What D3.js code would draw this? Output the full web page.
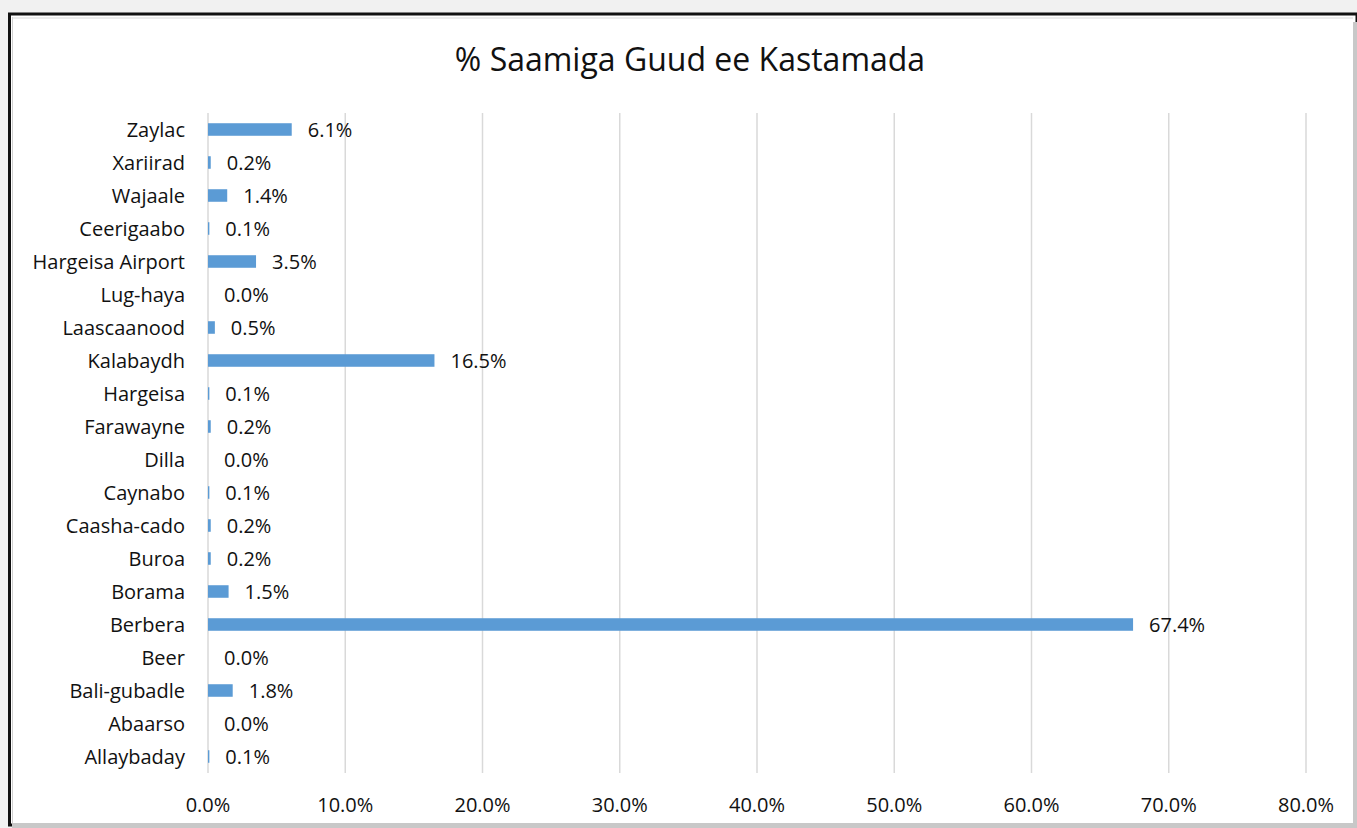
<!DOCTYPE html>
<html>
<head>
<meta charset="utf-8">
<script src="https://cdn.jsdelivr.net/npm/d3@7"></script>
<style>
  body { margin: 0; background: #fff; }
  svg { display: block; font-family: "Open Sans", Lato, sans-serif; }
</style>
</head>
<body>
<svg id="canvas" width="1357" height="828"></svg>
<script>
let categories = ['Zaylac', 'Xariirad', 'Wajaale', 'Ceerigaabo', 'Hargeisa Airport', 'Lug-haya',
  'Laascaanood', 'Kalabaydh', 'Hargeisa', 'Farawayne', 'Dilla', 'Caynabo', 'Caasha-cado',
  'Buroa', 'Borama', 'Berbera', 'Beer', 'Bali-gubadle', 'Abaarso', 'Allaybaday']
let values = [6.1, 0.2, 1.4, 0.1, 3.5, 0.0, 0.5, 16.5, 0.1, 0.2, 0.0, 0.1, 0.2, 0.2, 1.5, 67.4, 0.0, 1.8, 0.0, 0.1]
let ticks = [0, 10, 20, 30, 40, 50, 60, 70, 80]
let title = '% Saamiga Guud ee Kastamada'

let data = categories.map((c, i) => ({ name: c, value: values[i] }))

let canvas = d3.select('#canvas')

// frame
canvas.append('rect').attr('x', 0).attr('y', 0).attr('width', 1357).attr('height', 828).attr('fill', '#f1f1f1')
canvas.append('rect').attr('x', 9.5).attr('y', 14).attr('width', 1347.5).attr('height', 811)
      .attr('fill', '#fff').attr('stroke', '#111').attr('stroke-width', 3)
canvas.append('rect').attr('x', 1353).attr('y', 22).attr('width', 4).attr('height', 806).attr('fill', '#c8c8c8')
canvas.append('rect').attr('x', 12).attr('y', 823).attr('width', 1345).attr('height', 5).attr('fill', '#c8c8c8')
canvas.append('line').attr('x1', 12.5).attr('x2', 12.5).attr('y1', 17).attr('y2', 823)
      .attr('stroke', '#d0d0d0').attr('stroke-width', 1)
canvas.append('line').attr('x1', 12).attr('x2', 1353).attr('y1', 18).attr('y2', 18)
      .attr('stroke', '#d8d8d8').attr('stroke-width', 1)

let x = d3.scaleLinear().domain([0, 80]).range([208, 1306])
let y = d3.scaleBand().domain(categories).range([113, 773]).paddingInner(0.62).paddingOuter(0.31)

// gridlines
canvas.append('g').selectAll('line')
      .data(ticks)
      .enter()
      .append('line')
      .attr('x1', (d) => x(d))
      .attr('x2', (d) => x(d))
      .attr('y1', 113)
      .attr('y2', 773)
      .attr('stroke', '#d9d9d9')
      .attr('stroke-width', 1.5)

// bars
canvas.append('g').selectAll('rect')
      .data(data)
      .enter()
      .append('rect')
      .attr('x', x(0))
      .attr('y', (d) => y(d.name))
      .attr('width', (d) => x(d.value) - x(0))
      .attr('height', y.bandwidth())
      .attr('fill', '#5b9bd5')

// value labels
canvas.append('g').selectAll('text')
      .data(data)
      .enter()
      .append('text')
      .attr('x', (d) => x(d.value) + 16)
      .attr('y', (d) => y(d.name) + y.bandwidth() / 2)
      .attr('dy', '0.35em')
      .attr('font-size', 20)
      .attr('fill', '#111')
      .text((d) => d.value.toFixed(1) + '%')

// category labels
canvas.append('g').selectAll('text')
      .data(data)
      .enter()
      .append('text')
      .attr('x', 185)
      .attr('y', (d) => y(d.name) + y.bandwidth() / 2)
      .attr('dy', '0.35em')
      .attr('text-anchor', 'end')
      .attr('font-size', 20)
      .attr('fill', '#111')
      .text((d) => d.name)

// x tick labels
canvas.append('g').selectAll('text')
      .data(ticks)
      .enter()
      .append('text')
      .attr('x', (d) => x(d))
      .attr('y', 805)
      .attr('dy', '0.35em')
      .attr('text-anchor', 'middle')
      .attr('font-size', 20)
      .attr('fill', '#111')
      .text((d) => d.toFixed(1) + '%')

canvas.append('text')
      .attr('x', 690)
      .attr('y', 60)
      .attr('dy', '0.35em')
      .attr('text-anchor', 'middle')
      .attr('font-size', 32)
      .attr('fill', '#111')
      .text(title)
</script>
</body>
</html>
